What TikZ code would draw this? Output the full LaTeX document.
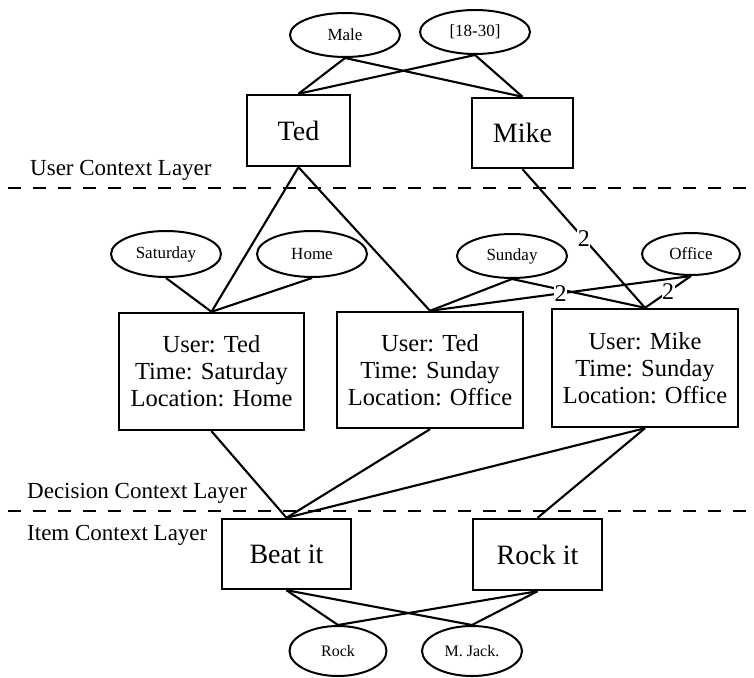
\documentclass[tikz,border=0pt]{standalone}
\usepackage{fontspec}
\setmainfont{Liberation Serif}
\usetikzlibrary{shapes.geometric}
\begin{document}
\begin{tikzpicture}[x=1pt,y=-1pt,
  ell/.style={draw, ellipse, line width=2, inner sep=0, minimum width=110, minimum height=44, font=\fontsize{17}{17}\selectfont},
  box/.style={draw, rectangle, line width=2.4, inner sep=0, align=center},
  bigbox/.style={box, font=\fontsize{28}{28}\selectfont},
  ctxbox/.style={box, minimum width=186, minimum height=117, font=\fontsize{24.5}{27}\selectfont},
  conn/.style={line width=2.1},
  wlbl/.style={midway, fill=white, inner sep=0.5, font=\fontsize{24}{24}\selectfont},
  layer/.style={anchor=base west, inner sep=0, font=\fontsize{23}{23}\selectfont},
  sep/.style={line width=2.4, dash pattern=on 13 off 12}]
\useasboundingbox (0,0) rectangle (754,677);

% top ellipses
\node[ell] (male) at (345,35) {Male};
\node[ell] (age) at (475,32) {[18-30]};
% users
\node[bigbox, minimum width=103, minimum height=71] (ted) at (298.5,130.5) {Ted};
\node[bigbox, minimum width=101, minimum height=70] (mike) at (522.5,133) {Mike};

% layer separators
\coordinate (s1l) at (8,188); \coordinate (s1r) at (752,188);
\coordinate (s2l) at (8,511); \coordinate (s2r) at (752,511);
\draw[sep] (s1l) -- (s1r);
\draw[sep] (s2l) -- (s2r);
\node[layer] (ucl) at (30,175) {User Context Layer};
\node[layer] (dcl) at (27,498) {Decision Context Layer};
\node[layer] (icl) at (27,540) {Item Context Layer};

% second-row ellipses
\node[ell, minimum height=46] (sat) at (166,254) {Saturday};
\node[ell, minimum height=46] (home) at (312,254) {Home};
\node[ell, minimum height=44] (sun) at (512,256) {Sunday};
\node[ell, minimum width=98, minimum height=42] (office) at (691,254) {Office};

% decision contexts
\node[ctxbox, minimum width=185] (c1) at (211.5,371.5) {User: Ted\\Time: Saturday\\Location: Home};
\node[ctxbox, minimum height=116] (c2) at (430,370) {User: Ted\\Time: Sunday\\Location: Office};
\node[ctxbox, minimum height=118] (c3) at (645,368) {User: Mike\\Time: Sunday\\Location: Office};

% items
\node[bigbox, minimum width=129, minimum height=70] (beat) at (286.5,554) {Beat it};
\node[bigbox, minimum width=129, minimum height=71] (rock) at (537.5,554.5) {Rock it};

% bottom ellipses
\node[ell, minimum width=97, minimum height=50, font=\fontsize{16}{16}\selectfont] (rk) at (338,651) {Rock};
\node[ell, minimum width=100, minimum height=50, font=\fontsize{16}{16}\selectfont] (mj) at (472,651) {M. Jack.};

% connectors
\draw[conn] (male.south) -- (ted.north);
\draw[conn] (male.south) -- (mike.north);
\draw[conn] (age.south) -- (ted.north);
\draw[conn] (age.south) -- (mike.north);

\draw[conn] (ted.south) -- (c1.north);
\draw[conn] (ted.south) -- (c2.north);
\draw[conn] (sat.south) -- (c1.north);
\draw[conn] (home.south) -- (c1.north);
\draw[conn] (sun.south) -- (c2.north);
\draw[conn] (sun.south) -- (c3.north);
\draw[conn] (office.south) -- (c2.north) node[wlbl] (w2) {2};
\draw[conn] (office.south) -- (c3.north) node[wlbl] (w3) {2};
\draw[conn] (mike.south) -- (c3.north) node[wlbl] (w1) {2};

\draw[conn] (c1.south) -- (beat.north);
\draw[conn] (c2.south) -- (beat.north);
\draw[conn] (c3.south) -- (beat.north);
\draw[conn] (c3.south) -- (rock.north);

\draw[conn] (beat.south) -- (rk.north);
\draw[conn] (beat.south) -- (mj.north);
\draw[conn] (rock.south) -- (rk.north);
\draw[conn] (rock.south) -- (mj.north);
\end{tikzpicture}
\end{document}
